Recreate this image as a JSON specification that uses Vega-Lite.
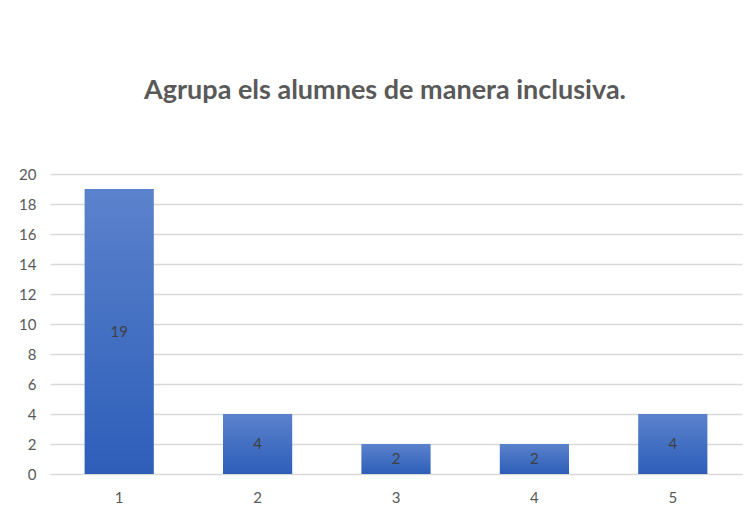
{
  "$schema": "https://vega.github.io/schema/vega-lite/v6.json",
  "autosize": "none",
  "width": 692,
  "height": 300,
  "padding": {"left": 50, "top": 174, "right": 12, "bottom": 41},
  "background": "white",
  "config": {
    "view": {"stroke": null},
    "font": "Lato"
  },
  "title": {
    "text": "Agrupa els alumnes de manera inclusiva.",
    "font": "Lato",
    "fontSize": 27,
    "fontWeight": "bold",
    "color": "#595959",
    "anchor": "middle",
    "offset": 62,
    "dx": -11
  },
  "data": {
    "values": [
      {"cat": "1", "value": 19},
      {"cat": "2", "value": 4},
      {"cat": "3", "value": 2},
      {"cat": "4", "value": 2},
      {"cat": "5", "value": 4}
    ]
  },
  "encoding": {
    "x": {
      "field": "cat",
      "type": "nominal",
      "sort": null,
      "scale": {"paddingInner": 0.5, "paddingOuter": 0.25},
      "axis": {
        "title": null,
        "labelAngle": 0,
        "labelFontSize": 15,
        "labelColor": "#595959",
        "labelPadding": 16,
        "ticks": false,
        "domain": false,
        "grid": false
      }
    },
    "y": {
      "field": "value",
      "type": "quantitative",
      "scale": {"domain": [0, 20]},
      "axis": {
        "title": null,
        "values": [0, 2, 4, 6, 8, 10, 12, 14, 16, 18, 20],
        "labelOverlap": false,
        "labelFontSize": 15,
        "labelColor": "#595959",
        "labelPadding": 14,
        "ticks": false,
        "domain": false,
        "grid": true,
        "gridColor": "#d9d9d9",
        "gridWidth": 1.5
      }
    }
  },
  "layer": [
    {
      "mark": {
        "type": "bar",
        "color": {
          "gradient": "linear",
          "x1": 0, "y1": 0, "x2": 0, "y2": 1,
          "stops": [
            {"offset": 0, "color": "#5b82cc"},
            {"offset": 1, "color": "#2d5eb9"}
          ]
        }
      }
    },
    {
      "mark": {"type": "text", "fontSize": 15, "color": "#404040", "baseline": "middle"},
      "transform": [
        {"calculate": "datum.value", "as": "lbl"},
        {"calculate": "datum.value / 2", "as": "value"}
      ],
      "encoding": {
        "text": {"field": "lbl", "type": "quantitative"}
      }
    }
  ]
}
